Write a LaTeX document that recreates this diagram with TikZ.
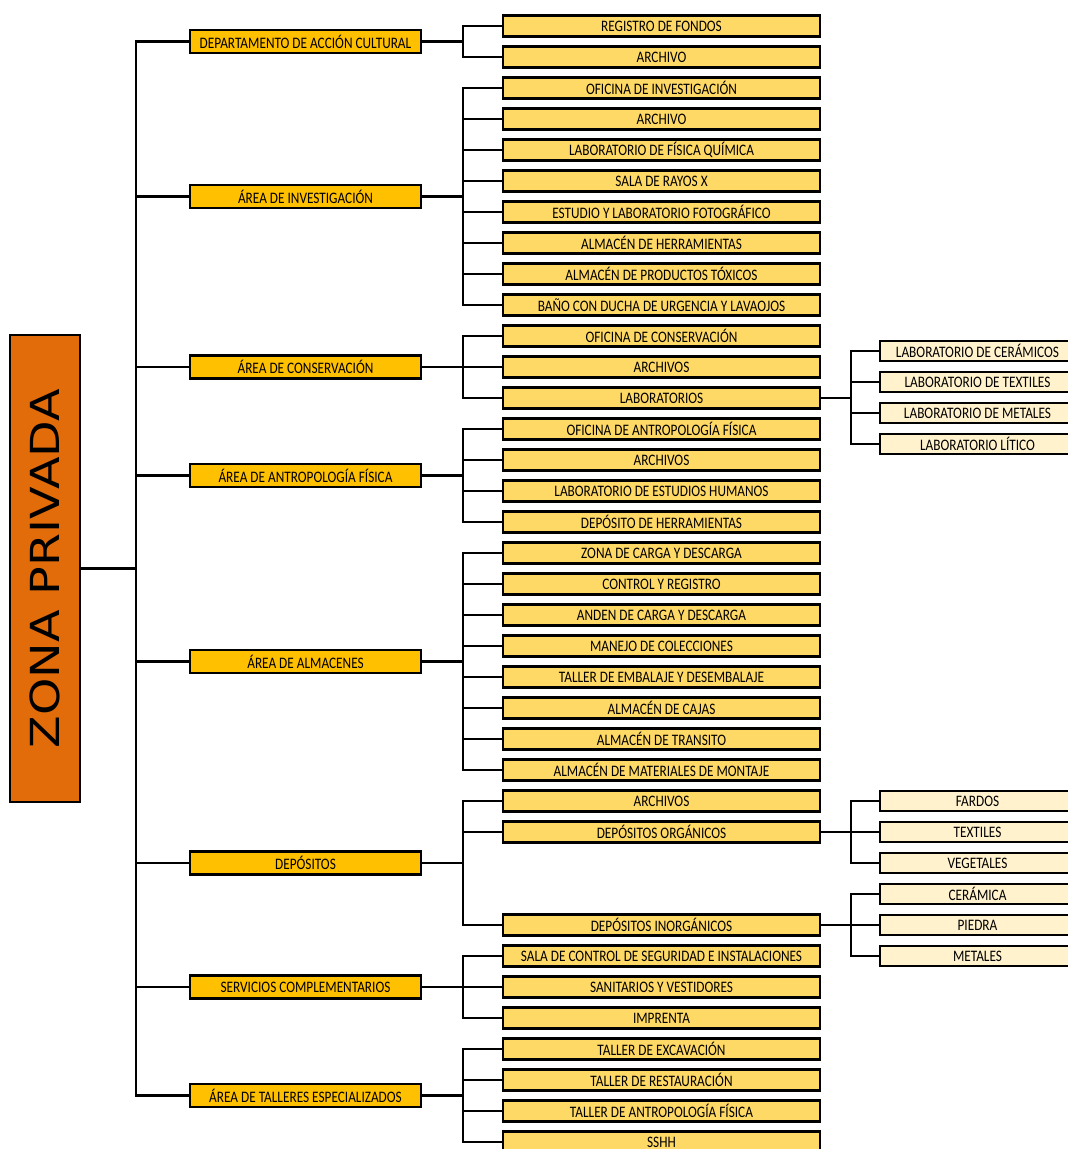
\documentclass[tikz,border=0pt]{standalone}
\usepackage{fontspec}
\setmainfont{Carlito}[FakeStretch=0.83]
\newfontfamily\rootfont{DejaVu Sans}[FakeStretch=1.19]
\usepackage{tikz}

\definecolor{rootorange}{HTML}{E36C0A}
\definecolor{areagold}{HTML}{FFC000}
\definecolor{roomgold}{HTML}{FFD966}
\definecolor{labcream}{HTML}{FFF2CC}

\tikzset{
	box/.style={draw=black, line width=2.2pt, inner sep=0pt, font=\fontsize{16}{18}\selectfont},
	rootbox/.style={box, fill=rootorange, minimum width=70pt, minimum height=467pt},
	area/.style={box, fill=areagold, minimum width=231pt, minimum height=23pt},
	room/.style={box, fill=roomgold, minimum width=317pt, minimum height=21pt},
	lab/.style={box, fill=labcream, minimum width=195pt, minimum height=20pt},
	link/.style={line width=2.2pt, black},
}

\begin{document}
\begin{tikzpicture}[x=1pt, y=-1pt]
	\useasboundingbox (0,0) rectangle (1068,1149);

	\node[rootbox] (zona) at (45,568.5) {};
	\node[rotate=90, font=\rootfont\fontsize{40}{44}\selectfont] at (zona.center) {ZONA PRIVADA};

	% areas
	\node[area] (dac) at (305.5,41.5) {DEPARTAMENTO DE ACCIÓN CULTURAL};
	\node[area] (inv) at (305.5,196.5) {ÁREA DE INVESTIGACIÓN};
	\node[area] (cons) at (305.5,367) {ÁREA DE CONSERVACIÓN};
	\node[area] (antro) at (305.5,475.5) {ÁREA DE ANTROPOLOGÍA FÍSICA};
	\node[area] (alm) at (305.5,661.5) {ÁREA DE ALMACENES};
	\node[area] (dep) at (305.5,863) {DEPÓSITOS};
	\node[area] (serv) at (305.5,987) {SERVICIOS COMPLEMENTARIOS};
	\node[area] (tall) at (305.5,1095.5) {ÁREA DE TALLERES ESPECIALIZADOS};

	% rooms
	\node[room] (reg) at (661.5,26) {REGISTRO DE FONDOS};
	\node[room] (arch1) at (661.5,57) {ARCHIVO};
	\node[room] (ofinv) at (661.5,88) {OFICINA DE INVESTIGACIÓN};
	\node[room] (arch2) at (661.5,119) {ARCHIVO};
	\node[room] (labfq) at (661.5,150) {LABORATORIO DE FÍSICA QUÍMICA};
	\node[room] (rayos) at (661.5,181) {SALA DE RAYOS X};
	\node[room] (foto) at (661.5,212) {ESTUDIO Y LABORATORIO FOTOGRÁFICO};
	\node[room] (herr1) at (661.5,243) {ALMACÉN DE HERRAMIENTAS};
	\node[room] (toxic) at (661.5,274) {ALMACÉN DE PRODUCTOS TÓXICOS};
	\node[room] (bano) at (661.5,305) {BAÑO CON DUCHA DE URGENCIA Y LAVAOJOS};
	\node[room] (ofcons) at (661.5,336) {OFICINA DE CONSERVACIÓN};
	\node[room] (arch3) at (661.5,367) {ARCHIVOS};
	\node[room] (labs) at (661.5,398) {LABORATORIOS};
	\node[room] (ofantro) at (661.5,429) {OFICINA DE ANTROPOLOGÍA FÍSICA};
	\node[room] (arch4) at (661.5,460) {ARCHIVOS};
	\node[room] (labhum) at (661.5,491) {LABORATORIO DE ESTUDIOS HUMANOS};
	\node[room] (herr2) at (661.5,522) {DEPÓSITO DE HERRAMIENTAS};
	\node[room] (carga) at (661.5,553) {ZONA DE CARGA Y DESCARGA};
	\node[room] (control) at (661.5,584) {CONTROL Y REGISTRO};
	\node[room] (anden) at (661.5,615) {ANDEN DE CARGA Y DESCARGA};
	\node[room] (manejo) at (661.5,646) {MANEJO DE COLECCIONES};
	\node[room] (embal) at (661.5,677) {TALLER DE EMBALAJE Y DESEMBALAJE};
	\node[room] (cajas) at (661.5,708) {ALMACÉN DE CAJAS};
	\node[room] (trans) at (661.5,739) {ALMACÉN DE TRANSITO};
	\node[room] (mont) at (661.5,770) {ALMACÉN DE MATERIALES DE MONTAJE};
	\node[room] (arch5) at (661.5,801) {ARCHIVOS};
	\node[room] (org) at (661.5,832) {DEPÓSITOS ORGÁNICOS};
	\node[room] (inorg) at (661.5,925) {DEPÓSITOS INORGÁNICOS};
	\node[room] (segur) at (661.5,956) {SALA DE CONTROL DE SEGURIDAD E INSTALACIONES};
	\node[room] (sanit) at (661.5,987) {SANITARIOS Y VESTIDORES};
	\node[room] (impr) at (661.5,1018) {IMPRENTA};
	\node[room] (excav) at (661.5,1049) {TALLER DE EXCAVACIÓN};
	\node[room] (resta) at (661.5,1080) {TALLER DE RESTAURACIÓN};
	\node[room] (tantro) at (661.5,1111) {TALLER DE ANTROPOLOGÍA FÍSICA};
	\node[room] (sshh) at (661.5,1142) {SSHH};

	% labs and stores
	\node[lab] (lcer) at (977.5,351) {LABORATORIO DE CERÁMICOS};
	\node[lab] (ltex) at (977.5,382) {LABORATORIO DE TEXTILES};
	\node[lab] (lmet) at (977.5,413) {LABORATORIO DE METALES};
	\node[lab] (llit) at (977.5,444) {LABORATORIO LÍTICO};
	\node[lab] (fard) at (977.5,801) {FARDOS};
	\node[lab] (text) at (977.5,832) {TEXTILES};
	\node[lab] (veg) at (977.5,863) {VEGETALES};
	\node[lab] (ceram) at (977.5,894) {CERÁMICA};
	\node[lab] (pied) at (977.5,925) {PIEDRA};
	\node[lab] (metal) at (977.5,956) {METALES};

	% links
	\draw[link] (zona.east) -- ++(55,0) |- (dac.west) (zona.east) ++(55,0) |- (inv.west)
		(zona.east) ++(55,0) |- (cons.west) (zona.east) ++(55,0) |- (antro.west)
		(zona.east) ++(55,0) |- (alm.west) (zona.east) ++(55,0) |- (dep.west)
		(zona.east) ++(55,0) |- (serv.west) (zona.east) ++(55,0) |- (tall.west);

	\draw[link] (dac.east) -- ++(41,0) |- (reg.west) (dac.east) ++(41,0) |- (arch1.west);
	\draw[link] (inv.east) -- ++(41,0) |- (ofinv.west) (inv.east) ++(41,0) |- (arch2.west)
		(inv.east) ++(41,0) |- (labfq.west) (inv.east) ++(41,0) |- (rayos.west)
		(inv.east) ++(41,0) |- (foto.west) (inv.east) ++(41,0) |- (herr1.west)
		(inv.east) ++(41,0) |- (toxic.west) (inv.east) ++(41,0) |- (bano.west);
	\draw[link] (cons.east) -- ++(41,0) |- (ofcons.west) (cons.east) ++(41,0) |- (arch3.west)
		(cons.east) ++(41,0) |- (labs.west);
	\draw[link] (antro.east) -- ++(41,0) |- (ofantro.west) (antro.east) ++(41,0) |- (arch4.west)
		(antro.east) ++(41,0) |- (labhum.west) (antro.east) ++(41,0) |- (herr2.west);
	\draw[link] (alm.east) -- ++(41,0) |- (carga.west) (alm.east) ++(41,0) |- (control.west)
		(alm.east) ++(41,0) |- (anden.west) (alm.east) ++(41,0) |- (manejo.west)
		(alm.east) ++(41,0) |- (embal.west) (alm.east) ++(41,0) |- (cajas.west)
		(alm.east) ++(41,0) |- (trans.west) (alm.east) ++(41,0) |- (mont.west);
	\draw[link] (dep.east) -- ++(41,0) |- (arch5.west) (dep.east) ++(41,0) |- (org.west)
		(dep.east) ++(41,0) |- (inorg.west);
	\draw[link] (serv.east) -- ++(41,0) |- (segur.west) (serv.east) ++(41,0) |- (sanit.west)
		(serv.east) ++(41,0) |- (impr.west);
	\draw[link] (tall.east) -- ++(41,0) |- (excav.west) (tall.east) ++(41,0) |- (resta.west)
		(tall.east) ++(41,0) |- (tantro.west) (tall.east) ++(41,0) |- (sshh.west);

	\draw[link] (labs.east) -- ++(30,0) |- (lcer.west) (labs.east) ++(30,0) |- (ltex.west)
		(labs.east) ++(30,0) |- (lmet.west) (labs.east) ++(30,0) |- (llit.west);
	\draw[link] (org.east) -- ++(30,0) |- (fard.west) (org.east) ++(30,0) |- (text.west)
		(org.east) ++(30,0) |- (veg.west);
	\draw[link] (inorg.east) -- ++(30,0) |- (ceram.west) (inorg.east) ++(30,0) |- (pied.west)
		(inorg.east) ++(30,0) |- (metal.west);
\end{tikzpicture}
\end{document}
